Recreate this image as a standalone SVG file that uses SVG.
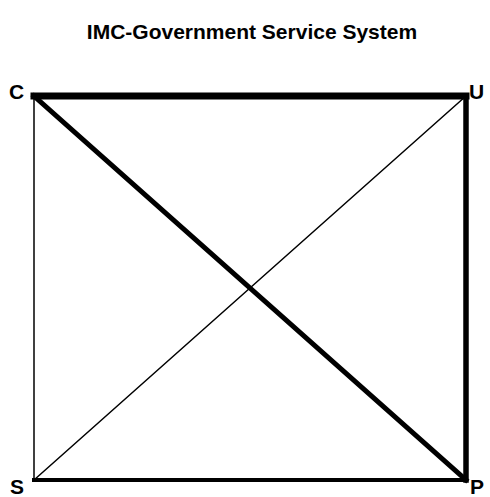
<svg xmlns="http://www.w3.org/2000/svg" width="490" height="497" viewBox="0 0 490 497">
<style>
text{font-family:"Liberation Sans",Arial,sans-serif;font-weight:bold;fill:#000}
.t{font-size:21px}
.l{font-size:21px}
line{stroke:#000;stroke-linecap:square}
</style>
<rect width="490" height="497" fill="#fff"/>
<text class="t" x="252" y="39" text-anchor="middle">IMC-Government Service System</text>
<g id="connectors">
<line x1="34" y1="96" x2="466" y2="96" stroke-width="7"/>
<line x1="466" y1="96" x2="466" y2="480" stroke-width="5.5"/>
<line x1="34" y1="480" x2="466" y2="480" stroke-width="4"/>
<line x1="34" y1="96" x2="34" y2="480" stroke-width="1.5"/>
<line x1="34" y1="96" x2="466" y2="480" stroke-width="5"/>
<line x1="34" y1="480" x2="466" y2="96" stroke-width="1.5"/>
</g>
<g id="node-C"><text class="l" x="9" y="99">C</text></g>
<g id="node-U"><text class="l" x="469" y="99">U</text></g>
<g id="node-S"><text class="l" x="10" y="494">S</text></g>
<g id="node-P"><text class="l" x="470" y="494">P</text></g>
</svg>
